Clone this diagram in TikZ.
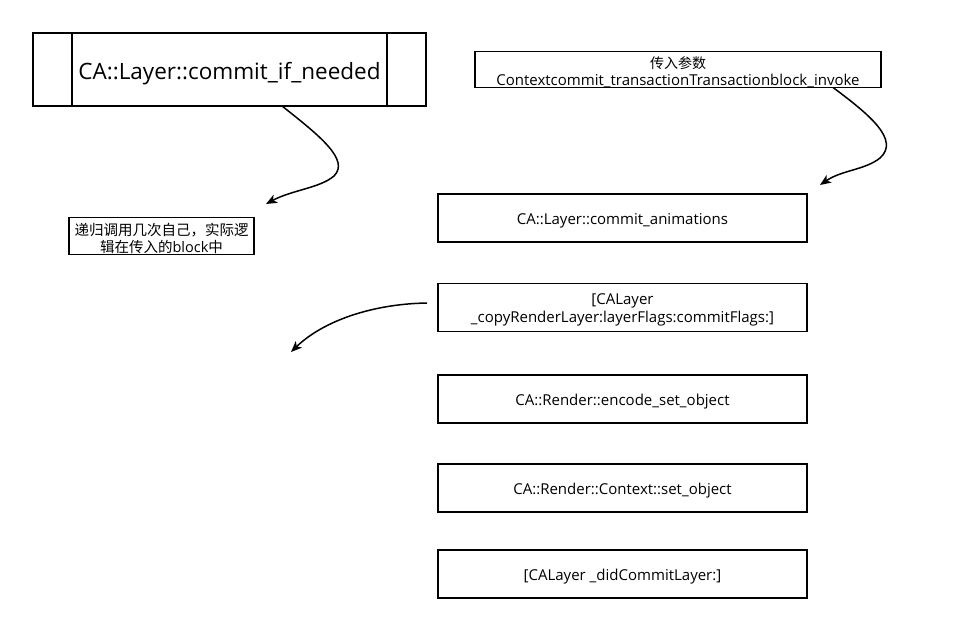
\documentclass[tikz,border=0pt]{standalone}
\usepackage{fontspec}
\setmainfont{Open Sans}
\newfontfamily\cjk{Noto Sans CJK SC}
\newcommand\lowr[1]{\rule{0pt}{#1}}
\usetikzlibrary{arrows.meta,calc}
\begin{document}
\begin{tikzpicture}[x=1pt,y=-1pt,
  every node/.style={inner sep=0pt,outer sep=0pt,align=center,font=\fontsize{15}{18}\selectfont},
  stepbox/.style={draw,line width=1.3pt,minimum width=369pt,minimum height=48pt},
  thick box/.style={draw,line width=1.6pt},
  conn/.style={line width=1.5pt,-{Stealth[length=11pt,width=9pt,inset=3pt]}}]
\useasboundingbox (0,0) rectangle (962,642);
% top-left process box
\node[thick box,minimum width=393pt,minimum height=73pt,font=\fontsize{22.5}{26}\selectfont] (ifn) at (229.5,69.5) {\lowr{25pt}CA::Layer::commit\_if\_needed};
\draw[line width=1.3pt] (72,33) -- (72,106) (387,33) -- (387,106);
% parameter box
\node[thick box,minimum width=406pt,minimum height=36pt,font=\fontsize{15}{17}\selectfont] (param) at (678,69.5) {{\cjk\fontsize{14}{17}\selectfont\lowr{16.5pt}传入参数}\\Contextcommit\_transactionTransactionblock\_invoke};
% comment box
\node[thick box,minimum width=185pt,minimum height=37pt,font=\fontsize{14.5}{17}\selectfont] (note) at (161.5,236) {{\cjk\lowr{17pt}递归调用几次自己，实际逻}\\{\cjk 辑在传入的}block{\cjk 中}};
% right column
\node[stepbox] (s1) at (622.5,218) {\lowr{17pt}CA::Layer::commit\_animations};
\node[stepbox] (s2) at (622.5,307.5) {\lowr{15pt}[CALayer\\\_copyRenderLayer:layerFlags:commitFlags:]};
\node[stepbox] (s3) at (622.5,399) {\lowr{17pt}CA::Render::encode\_set\_object};
\node[stepbox] (s4) at (622.5,488) {\lowr{17pt}CA::Render::Context::set\_object};
\node[stepbox] (s5) at (622.5,574) {\lowr{17pt}[CALayer \_didCommitLayer:]};
% free ends
\coordinate (t1) at (266,204);
\coordinate (t2) at (820,185);
\coordinate (s3start) at (427,303);
\coordinate (t3) at (291,352);
\draw[conn] ([xshift=52.5pt]ifn.south) .. controls (320,136) and (350,160) .. (334,176) .. controls (320,188) and (292,190) .. (t1);
\draw[conn] ([xshift=155pt]param.south) .. controls (870,115) and (900,140) .. (880,158) .. controls (865,170) and (842,170) .. (t2);
\draw[conn] (s3start) .. controls (370,304) and (322,322) .. (t3);
\end{tikzpicture}
\end{document}
